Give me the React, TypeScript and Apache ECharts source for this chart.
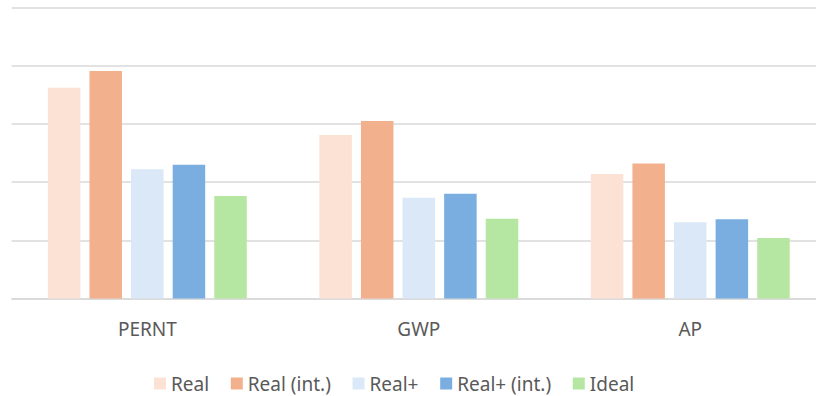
import React, { useEffect, useRef } from "react";
import * as echarts from "echarts";

const categories = ["PERNT", "GWP", "AP"];
const seriesNames = ["Real", "Real (int.)", "Real+", "Real+ (int.)", "Ideal"];
const realValues = [3.62, 2.81, 2.14];
const realIntValues = [3.91, 3.05, 2.32];
const realPlusValues = [2.22, 1.73, 1.31];
const realPlusIntValues = [2.3, 1.8, 1.36];
const idealValues = [1.76, 1.37, 1.04];
const seriesColors = ["#FBE2D5", "#F3B08D", "#DAE8F7", "#7AAEE1", "#B5E6A2"];

const FONT = "Noto Sans";

export default function App() {
  const ref = useRef<HTMLDivElement>(null);
  useEffect(() => {
    if (!ref.current) return;
    const chart = echarts.init(ref.current, null, { renderer: "svg" });
    const allValues = [realValues, realIntValues, realPlusValues, realPlusIntValues, idealValues];
    chart.setOption({
      animation: false,
      backgroundColor: "#ffffff",
      grid: { left: 11.6, top: 7.5, right: 0, bottom: 97.5, containLabel: false },
      legend: {
        left: 154,
        top: 374,
        padding: 0,
        itemWidth: 12,
        itemHeight: 12,
        itemGap: 21.7,
        icon: "rect",
        textStyle: { color: "#595959", fontSize: 19, fontFamily: FONT, padding: [0, 0, 0, 0] },
        data: seriesNames,
      },
      xAxis: {
        type: "category",
        data: categories,
        axisLine: { show: true, lineStyle: { color: "#d9d9d9", width: 1.5 } },
        axisTick: { show: false },
        axisLabel: { color: "#595959", fontSize: 19, fontFamily: FONT, margin: 21 },
      },
      yAxis: {
        type: "value",
        min: 0,
        max: 5,
        interval: 1,
        axisLabel: { show: false },
        axisLine: { show: false },
        axisTick: { show: false },
        splitLine: { show: true, lineStyle: { color: "#d9d9d9", width: 1.5 } },
      },
      series: seriesNames.map((name, i) => ({
        name,
        type: "bar",
        data: allValues[i],
        barWidth: 32.5,
        barGap: "28%",
        itemStyle: { color: seriesColors[i] },
      })),
    });
    return () => chart.dispose();
  }, []);
  return (
    <div
      style={{ position: "absolute", left: 0, top: 0, width: 816, height: 396, overflow: "hidden", background: "#fff" }}
    >
      <div ref={ref} style={{ width: 826, height: 396 }} />
    </div>
  );
}
